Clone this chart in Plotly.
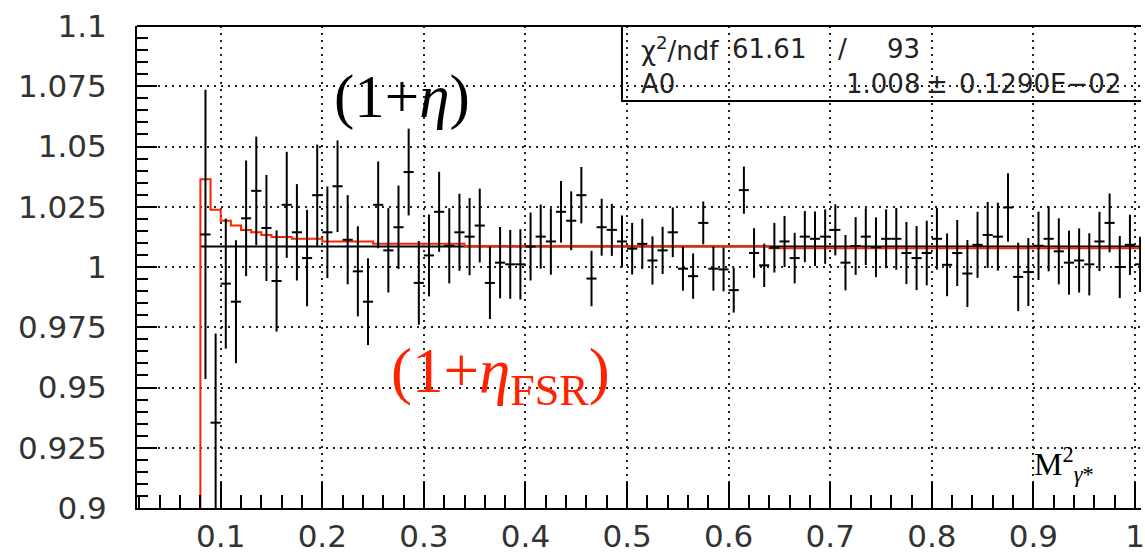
import plotly.graph_objects as go

# ---------------- data ----------------
bin_centers = [round(0.085 + 0.01 * i, 3) for i in range(93)]
ratio = [
    1.0135, 0.9354, 0.9931, 0.9856, 1.0202, 1.0316, 1.0162, 0.9942, 1.0258, 1.0144,
    1.0037, 1.0298, 1.0144, 1.0335, 1.0113, 0.9982, 0.9856, 1.0258, 1.0069, 1.0165,
    1.0394, 0.9934, 1.0048, 1.0229, 1.0088, 1.0144, 1.0126, 1.0172, 0.9934, 1.0018,
    1.0011, 1.0011, 1.0085, 1.0126, 1.0106, 1.0229, 1.0192, 1.0298, 0.9952, 1.0165,
    1.0154, 1.0106, 1.0076, 1.0096, 1.0027, 1.0069, 1.0144, 0.9993, 0.9962, 1.0183,
    0.9993, 0.9990, 0.9904, 1.0319, 1.0058, 1.0007, 1.0080, 1.0106, 1.0037, 1.0126,
    1.0117, 1.0126, 1.0154, 1.0018, 1.0087, 1.0126, 1.0082, 1.0117, 1.0117, 1.0058,
    1.0037, 1.0058, 1.0117, 1.0009, 1.0058, 0.9973, 1.0092, 1.0133, 1.0126, 1.0247,
    0.9959, 0.9979, 1.0088, 1.0117, 1.0065, 1.0018, 1.0027, 1.0011, 1.0106, 1.0183,
    1.0000, 1.0092, 1.0011,
]
ratio_err = [
    0.060, 0.037, 0.027, 0.0255, 0.024, 0.0225, 0.022, 0.021, 0.022, 0.020,
    0.020, 0.021, 0.019, 0.019, 0.0185, 0.0187, 0.018, 0.018, 0.0175, 0.0173,
    0.018, 0.0174, 0.017, 0.0166, 0.0156, 0.016, 0.016, 0.0153, 0.015, 0.0148,
    0.0143, 0.0146, 0.0141, 0.0133, 0.0138, 0.0128, 0.0122, 0.0117, 0.0115, 0.0118,
    0.0108, 0.0108, 0.0107, 0.0104, 0.0100, 0.0098, 0.0103, 0.0091, 0.0094, 0.0089,
    0.0091, 0.0091, 0.0093, 0.0098, 0.0103, 0.0090, 0.0103, 0.0106, 0.0105, 0.0106,
    0.0113, 0.0113, 0.0106, 0.0115, 0.0120, 0.0118, 0.0124, 0.0122, 0.0128, 0.0129,
    0.0133, 0.0134, 0.0128, 0.0130, 0.0137, 0.0139, 0.0137, 0.0137, 0.0141, 0.0142,
    0.0142, 0.0141, 0.0142, 0.0135, 0.0137, 0.0133, 0.0133, 0.0129, 0.0123, 0.0122,
    0.0129, 0.0125, 0.0115,
]
half_bin = [0.005] * len(bin_centers)

# FSR correction histogram (step edges and levels)
fsr_edges = [0.08, 0.09, 0.10, 0.11, 0.12, 0.13, 0.14, 0.15, 0.17, 0.20, 0.25, 0.34, 0.64, 1.01]
fsr_values = [1.0364, 1.0238, 1.0192, 1.0172, 1.0154, 1.0144, 1.0133, 1.0124, 1.0117,
              1.0106, 1.0096, 1.0087, 1.0078]

# constant fit
fit_x = [0.08, 1.01]
fit_A0 = 1.0085

# stats
chi2 = "61.61"
ndf = "93"
A0_text = "1.008"
A0_err_text = "0.1290E\u221202"

x_tickvals = [0.1, 0.2, 0.3, 0.4, 0.5, 0.6, 0.7, 0.8, 0.9, 1.0]
x_ticktext = ["0.1", "0.2", "0.3", "0.4", "0.5", "0.6", "0.7", "0.8", "0.9", "1"]
y_tickvals = [0.9, 0.925, 0.95, 0.975, 1.0, 1.025, 1.05, 1.075, 1.1]
y_ticktext = ["0.9", "0.925", "0.95", "0.975", "1", "1.025", "1.05", "1.075", "1.1"]

# ---------------- figure ----------------
fig = go.Figure()

# fit line
fig.add_trace(go.Scatter(x=fit_x, y=[fit_A0, fit_A0], mode="lines",
                         line=dict(color="black", width=2), hoverinfo="skip"))

# red FSR histogram (hv step), starting from the bottom of the frame
hx = [fsr_edges[0]] + fsr_edges
hy = [0.0] + fsr_values + [fsr_values[-1]]
fig.add_trace(go.Scatter(x=hx, y=hy, mode="lines", line=dict(color="#ff2200", width=2, shape="hv"),
                         hoverinfo="skip"))

# data points with error bars
fig.add_trace(go.Scatter(
    x=bin_centers, y=ratio, mode="markers",
    marker=dict(size=1, color="black"),
    error_y=dict(type="data", array=ratio_err, visible=True, color="black", thickness=2, width=0),
    error_x=dict(type="data", array=half_bin, visible=True, color="black", thickness=2, width=0),
))

tickfont = dict(family="DejaVu Sans", size=31, color="#333")

fig.update_layout(
    width=1145, height=554,
    margin=dict(l=137, r=0, t=26, b=43),
    paper_bgcolor="white", plot_bgcolor="white",
    showlegend=False,
    xaxis=dict(
        range=[0.0176, 1.0059],
        tickmode="array", tickvals=x_tickvals, ticktext=x_ticktext,
        ticks="inside", ticklen=26, tickwidth=1.5, tickcolor="black",
        minor=dict(tickmode="linear", tick0=0, dtick=0.02, ticks="inside", ticklen=13,
                   tickwidth=1.5, tickcolor="black", showgrid=False),
        showline=True, linecolor="black", linewidth=2, mirror=False,
        showgrid=True, gridcolor="#222", gridwidth=1.5, griddash="2px,5px",
        zeroline=False, tickfont=tickfont, ticklabeloverflow="allow",
    ),
    yaxis=dict(
        range=[0.9, 1.1],
        tickmode="array", tickvals=y_tickvals, ticktext=y_ticktext,
        ticks="inside", ticklen=20, tickwidth=1.5, tickcolor="black",
        minor=dict(tickmode="linear", tick0=0.9, dtick=0.005, ticks="inside", ticklen=11,
                   tickwidth=1.5, tickcolor="black", showgrid=False),
        showline=True, linecolor="black", linewidth=2, mirror=False,
        showgrid=True, gridcolor="#222", gridwidth=1.5, griddash="2px,5px",
        zeroline=False, tickfont=tickfont, ticklabelstandoff=22,
    ),
)

# top frame line
fig.add_shape(type="line", xref="paper", yref="paper", x0=0, x1=1, y0=1, y1=1,
              line=dict(color="black", width=2), layer="above")

# stats box
fig.add_shape(type="rect", xref="x", yref="y", x0=0.495, x1=1.02, y0=1.0689, y1=1.1,
              line=dict(color="black", width=2), fillcolor="rgba(0,0,0,0)", layer="above")

sfont = dict(family="DejaVu Sans", size=26, color="#222")
stats = [
    (0.5118, 1.0904, "\u03c7<sup>2</sup>/ndf", "left"),
    (0.601, 1.0904, chi2, "left"),
    (0.712, 1.0904, "/", "center"),
    (0.790, 1.0904, ndf, "right"),
    (0.5118, 1.0759, "A0", "left"),
    (0.790, 1.0759, A0_text, "right"),
    (0.805, 1.0759, "\u00b1", "center"),
    (0.8245, 1.0759, A0_err_text, "left"),
]
for sx, sy, st, anc in stats:
    fig.add_annotation(x=sx, y=sy, xref="x", yref="y", text=st, showarrow=False,
                       xanchor=anc, yanchor="middle", font=sfont)

serif = "Liberation Serif"
fig.add_annotation(x=0.2098, y=1.0705, xref="x", yref="y", text="(1+<i>\u03b7</i>)",
                   showarrow=False, xanchor="left", yanchor="middle",
                   font=dict(family=serif, size=61, color="black"))
fig.add_annotation(x=0.2657, y=0.955, xref="x", yref="y",
                   text="(1+<i>\u03b7</i><sub>FSR</sub>)",
                   showarrow=False, xanchor="left", yanchor="middle",
                   font=dict(family=serif, size=63, color="#ff2200"))
fig.add_annotation(x=0.899, y=0.918, xref="x", yref="y",
                   text="M<sup>2</sup><sub><i>\u03b3</i>*</sub>",
                   showarrow=False, xanchor="left", yanchor="middle",
                   font=dict(family=serif, size=32, color="black"))

fig.write_html("out.html")
